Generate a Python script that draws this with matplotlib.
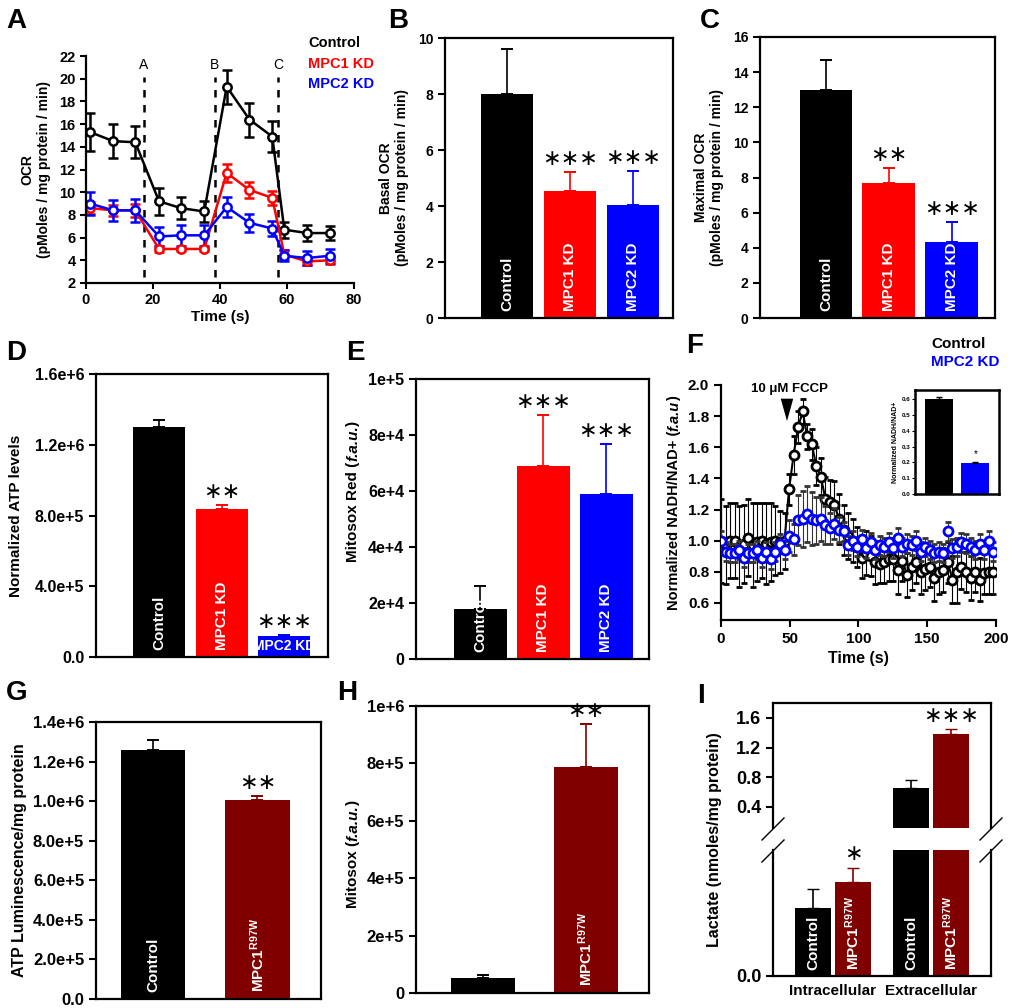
import matplotlib
matplotlib.use('Agg')
import matplotlib.pyplot as plt

plt.rcParams['font.family'] = ['Liberation Sans', 'DejaVu Sans']
plt.rcParams['font.weight'] = 'bold'
plt.rcParams['axes.linewidth'] = 1.6
plt.rcParams['mathtext.fontset'] = 'custom'
plt.rcParams['mathtext.rm'] = 'Liberation Sans:bold'
plt.rcParams['mathtext.bf'] = 'Liberation Sans:bold'
plt.rcParams['mathtext.it'] = 'Liberation Sans:bold:italic'

RED, BLUE, DRED = '#ff0000', '#0000ff', '#800000'

# ---- panel A: OCR time course
time_a = [1.2, 8.1, 14.7, 21.8, 28.3, 35.3, 42.0, 48.8, 55.6, 59.2, 66.0, 72.8]
ocr_ctrl = [15.3, 14.5, 14.4, 9.2, 8.6, 8.3, 19.3, 16.4, 14.9, 6.7, 6.4, 6.4]
ocr_ctrl_err = [1.7, 1.5, 1.4, 1.2, 1.0, 0.9, 1.5, 1.5, 1.4, 0.7, 0.7, 0.6]
ocr_mpc1 = [8.6, 8.4, 8.4, 5.0, 5.0, 5.0, 11.7, 10.2, 9.5, 4.5, 3.9, 4.0]
ocr_mpc1_err = [0.5, 0.5, 0.6, 0.3, 0.2, 0.2, 0.8, 0.7, 0.6, 0.4, 0.3, 0.3]
ocr_mpc2 = [9.0, 8.4, 8.4, 6.1, 6.2, 6.2, 8.7, 7.3, 6.8, 4.4, 4.2, 4.4]
ocr_mpc2_err = [1.0, 0.9, 1.0, 0.8, 0.9, 0.9, 0.9, 0.8, 0.7, 0.5, 0.6, 0.6]
inject_times = [17.3, 38.5, 57.3]
inject_labels = ['A', 'B', 'C']

# ---- bar panels
kd_groups = ['Control', 'MPC1 KD', 'MPC2 KD']
kd_colors = ['black', RED, BLUE]
basal_ocr = [8.0, 4.55, 4.05]
basal_err = [1.6, 0.65, 1.2]
basal_sig = ['', '***', '***']
max_ocr = [13.0, 7.7, 4.35]
max_err = [1.7, 0.85, 1.1]
max_sig = ['', '**', '***']
atp_kd = [1.30e6, 0.836e6, 0.12e6]
atp_kd_err = [0.04e6, 0.022e6, 0.005e6]
atp_kd_sig = ['', '**', '***']
atp_kd_ticks = ['0.0', '4.0e+5', '8.0e+5', '1.2e+6', '1.6e+6']
mitosox_kd = [1.79e4, 6.88e4, 5.9e4]
mitosox_kd_err = [0.83e4, 1.85e4, 1.79e4]
mitosox_kd_sig = ['', '***', '***']
mitosox_kd_ticks = ['0', '2e+4', '4e+4', '6e+4', '8e+4', '1e+5']

mut_groups = ['Control', r'MPC1$^{\mathrm{R97W}}$']
mut_colors = ['black', DRED]
atp_mut = [1.257e6, 1.008e6]
atp_mut_err = [0.05e6, 0.017e6]
atp_mut_sig = ['', '**']
atp_mut_ticks = ['0.0', '2.0e+5', '4.0e+5', '6.0e+5', '8.0e+5', '1.0e+6', '1.2e+6', '1.4e+6']
mitosox_mut = [0.053e6, 0.786e6]
mitosox_mut_err = [0.009e6, 0.151e6]
mitosox_mut_sig = ['', '**']
mitosox_mut_ticks = ['0', '2e+5', '4e+5', '6e+5', '8e+5', '1e+6']

# ---- panel F: NADH/NAD+ trace
time_f = [round(i * 3.3, 1) for i in range(61)]
nadh_ctrl = [1.0, 0.97, 1.0, 1.0, 0.96, 0.98, 1.02, 0.97, 0.99, 1.0, 0.98, 0.99, 1.0, 0.99, 1.0,
             1.33, 1.55, 1.73, 1.83, 1.67, 1.62, 1.48, 1.41, 1.27, 1.25, 1.23, 1.14, 1.07, 1.03, 1.0,
             0.96, 0.89, 0.92, 0.90, 0.86, 0.85, 0.86, 0.88, 0.88, 0.81, 0.87, 0.78, 0.83, 0.86, 0.80,
             0.82, 0.83, 0.76, 0.80, 0.81, 0.86, 0.75, 0.80, 0.83, 0.80, 0.76, 0.80, 0.75, 0.79, 0.80, 0.80]
nadh_ctrl_err = [0.27, 0.25, 0.24, 0.24, 0.26, 0.25, 0.25, 0.27, 0.25, 0.24, 0.26, 0.25, 0.22, 0.2, 0.18,
                 0.1, 0.12, 0.1, 0.08, 0.08, 0.1, 0.12, 0.12, 0.14, 0.14, 0.15, 0.16, 0.16, 0.15, 0.14,
                 0.13, 0.13, 0.14, 0.13, 0.14, 0.12, 0.13, 0.14, 0.14, 0.15, 0.13, 0.14, 0.15, 0.13, 0.14,
                 0.14, 0.13, 0.15, 0.14, 0.14, 0.13, 0.15, 0.2, 0.14, 0.13, 0.14, 0.13, 0.14, 0.13, 0.14, 0.14]
nadh_mpc2 = [1.0, 0.93, 0.92, 0.92, 0.94, 0.89, 0.92, 0.92, 0.94, 0.89, 0.93, 0.88, 0.93, 0.98, 0.94,
             1.03, 1.01, 1.13, 1.14, 1.17, 1.14, 1.13, 1.14, 1.10, 1.08, 1.11, 1.07, 1.06, 0.97, 1.0,
             0.96, 1.01, 0.95, 0.99, 0.94, 0.97, 0.96, 0.99, 0.95, 1.02, 0.96, 0.98, 0.97, 1.0, 0.93,
             0.96, 0.94, 0.92, 0.93, 0.92, 1.06, 0.95, 0.96, 0.99, 0.98, 0.96, 0.94, 0.98, 0.94, 1.0, 0.93]
nadh_mpc2_err = [0.06] * 15 + [0.1, 0.1, 0.16, 0.18, 0.18, 0.17, 0.15, 0.14, 0.12, 0.1, 0.1, 0.08] + [0.06] * 34
inset_vals = [0.60, 0.195]
inset_err = [0.01, 0.01]

# ---- panel I: lactate (broken axis)
lactate_x = [0, 1, 2.45, 3.45]
lactate_intra = [0.054, 0.075]
lactate_intra_err = [0.015, 0.011]
lactate_extra = [0.657, 1.38]
lactate_extra_err = [0.107, 0.07]

W, H = 1012, 1008
fig = plt.figure(figsize=(W / 100, H / 100), dpi=100)


def px_axes(l, t, r, b):
    return fig.add_axes([l / W, 1 - b / H, (r - l) / W, (b - t) / H])


def letter(x, y, s):
    fig.text(x / W, 1 - y / H, s, fontsize=20, fontweight='bold', va='top', ha='left')


def vlabel(x_px, yc_px, parts, size):
    # rotated label built from pieces so part of it can be italic
    r = fig.canvas.get_renderer()
    widths = []
    for s, st in parts:
        t = fig.text(0, 0, s, fontsize=size, fontweight='bold', fontstyle=st)
        widths.append(t.get_window_extent(r).width)
        t.remove()
    y = (H - yc_px) - sum(widths) / 2
    for (s, st), w in zip(parts, widths):
        fig.text(x_px / W, y / H, s, rotation=90, rotation_mode='anchor', ha='left',
                 va='baseline', fontsize=size, fontweight='bold', fontstyle=st)
        y += w


def bar_panel(ax, vals, errs, colors, labels, sigs, width, lab_size=11, star_size=16):
    xs = list(range(len(vals)))
    ax.bar(xs, vals, width, color=colors, zorder=2)
    for x, v, e, c, lab, s in zip(xs, vals, errs, colors, labels, sigs):
        ax.errorbar(x, v, yerr=[[0], [e]], color=c, capsize=4, lw=1.2, capthick=1.4, zorder=1)
        ax.annotate(lab, (x, 0), xycoords=('data', 'axes fraction'), xytext=(0, 7),
                    textcoords='offset pixels', rotation=90, ha='center', va='bottom',
                    color='white', fontsize=lab_size, fontweight='bold', zorder=3)
        if s:
            ax.annotate(s.replace('*', '\u2217'), (x, v + e), xytext=(0, 3), textcoords='offset pixels',
                        ha='center', va='bottom', fontsize=star_size, family='DejaVu Sans',
                        fontweight='normal')
    ax.set_xticks([])
    ax.tick_params(axis='y', direction='out', width=1.5, length=5)


# ================= A
axA = px_axes(86, 56, 354, 283)
for t in inject_times:
    axA.plot([t, t], [2.53, 20.15], ls=(0, (3, 3)), color='black', lw=1.8)
for t, s in zip(inject_times, inject_labels):
    axA.text(t, 20.6, s, ha='center', va='bottom', fontsize=10, fontweight='normal')
for y, e, c in [(ocr_ctrl, ocr_ctrl_err, 'black'), (ocr_mpc1, ocr_mpc1_err, RED),
                (ocr_mpc2, ocr_mpc2_err, BLUE)]:
    axA.errorbar(time_a, y, yerr=e, color=c, lw=1.8, capsize=3.5, capthick=1.5,
                 marker='o', ms=6, mfc='white', mec=c, mew=1.8)
axA.set_xlim(0, 80)
axA.set_ylim(2, 22)
axA.set_xticks([0, 20, 40, 60, 80])
axA.set_yticks(range(2, 23, 2))
axA.spines[['top', 'right']].set_visible(False)
axA.tick_params(labelsize=10.5, width=1.5, length=4)
axA.set_xlabel('Time (s)', fontsize=11, fontweight='bold', labelpad=2)
axA.set_ylabel('OCR\n(pMoles / mg protein / min)', fontsize=10, fontweight='bold', labelpad=6)
for i, (s, c) in enumerate(zip(['Control', 'MPC1 KD', 'MPC2 KD'], ['black', RED, BLUE])):
    fig.text(308 / W, 1 - (43 + 20.5 * i) / H, s, color=c, fontsize=10.5, fontweight='bold', va='center')
letter(6, 8, 'A')

# ================= B
axB = px_axes(445, 38, 673, 318)
bar_panel(axB, basal_ocr, basal_err, kd_colors, kd_groups, basal_sig, 0.83)
axB.set_xlim(-0.98, 2.63)
axB.set_ylim(0, 10)
axB.tick_params(labelsize=10)
axB.set_ylabel('Basal OCR\n(pMoles / mg protein / min)', fontsize=10, fontweight='bold', labelpad=6)
letter(388, 8, 'B')

# ================= C
axC = px_axes(760, 37, 995, 318)
bar_panel(axC, max_ocr, max_err, kd_colors, kd_groups, max_sig, 0.84)
axC.set_xlim(-1.05, 2.69)
axC.set_ylim(0, 16)
axC.tick_params(labelsize=10)
axC.set_ylabel('Maximal OCR\n(pMoles / mg protein / min)', fontsize=10, fontweight='bold', labelpad=6)
letter(700, 8, 'C')

# ================= D
axD = px_axes(96, 374, 328, 657)
bar_panel(axD, atp_kd, atp_kd_err, kd_colors, ['Control', 'MPC1 KD', ''], atp_kd_sig, 0.83)
axD.annotate('MPC2 KD', (2, 0), xycoords=('data', 'axes fraction'), xytext=(0, 4),
             textcoords='offset pixels', ha='center', va='bottom', color='white',
             fontsize=10, fontweight='bold')
axD.set_xlim(-1.01, 2.70)
axD.set_ylim(0, 1.6e6)
axD.set_yticks([0, 0.4e6, 0.8e6, 1.2e6, 1.6e6])
axD.set_yticklabels(atp_kd_ticks)
axD.tick_params(labelsize=11.5)
axD.set_ylabel('Normalized ATP levels', fontsize=11, fontweight='bold', labelpad=8)
letter(6, 340, 'D')

# ================= E
axE = px_axes(416, 379, 649, 659)
bar_panel(axE, mitosox_kd, mitosox_kd_err, kd_colors, kd_groups, mitosox_kd_sig, 0.84)
axE.set_xlim(-1.02, 2.68)
axE.set_ylim(0, 1e5)
axE.set_yticks([0, 2e4, 4e4, 6e4, 8e4, 1e5])
axE.set_yticklabels(mitosox_kd_ticks)
axE.tick_params(labelsize=11.5)
vlabel(357, 491, [('Mitosox Red (', 'normal'), ('f.a.u.', 'italic'), (')', 'normal')], 11)
letter(346, 340, 'E')

# ================= F
axF = px_axes(721, 385, 996, 620)
axF.errorbar(time_f, nadh_ctrl, yerr=nadh_ctrl_err, color='black', lw=1.5, capsize=2.5,
             elinewidth=0.8, capthick=0.8, marker='o', ms=6.5, mfc='white', mec='black', mew=2.0,
             zorder=2)
axF.errorbar(time_f, nadh_mpc2, yerr=nadh_mpc2_err, color=BLUE, ecolor='#333333', lw=0,
             capsize=2.5, elinewidth=0.8, capthick=0.8, marker='o', ms=6.5, mfc='white',
             mec=BLUE, mew=2.0, zorder=3)
axF.set_xlim(0, 200)
axF.set_ylim(0.49, 2.0)
axF.set_xticks([0, 50, 100, 150, 200])
axF.set_yticks([0.6, 0.8, 1.0, 1.2, 1.4, 1.6, 1.8, 2.0])
axF.spines[['top', 'right']].set_visible(False)
axF.tick_params(labelsize=11, width=1.5, length=5)
axF.set_xlabel('Time (s)', fontsize=11.5, fontweight='bold', labelpad=4)
vlabel(678, 503, [('Normalized NADH/NAD+ (', 'normal'), ('f.a.u', 'italic'), (')', 'normal')], 10.5)
axF.annotate('', xy=(48, 1.75), xytext=(48, 1.93),
             arrowprops=dict(arrowstyle='wedge,tail_width=0.9', color='black', lw=0))
axF.text(50, 1.935, '10 \u03bcM FCCP', ha='center', va='bottom', fontsize=9.5, fontweight='bold')
fig.text(931 / W, 1 - 344 / H, 'Control', color='black', fontsize=11, fontweight='bold', va='center')
fig.text(931 / W, 1 - 362 / H, 'MPC2 KD', color=BLUE, fontsize=11, fontweight='bold', va='center')
letter(686, 333, 'F')

axIn = px_axes(915, 390, 999, 494)
axIn.bar([0, 1], inset_vals, 0.77, color=['black', BLUE])
for x, v, e in zip([0, 1], inset_vals, inset_err):
    axIn.errorbar(x, v, yerr=[[0], [e]], color='black', capsize=2, lw=0.8)
axIn.text(1, 0.22, '*', ha='center', va='bottom', fontsize=7, fontweight='normal')
axIn.set_xlim(-0.645, 1.645)
axIn.set_ylim(0, 0.657)
axIn.set_xticks([])
axIn.set_yticks([0, 0.1, 0.2, 0.3, 0.4, 0.5, 0.6])
axIn.tick_params(labelsize=4.5, length=2, width=0.8, pad=1)
axIn.set_ylabel('Normalized NADH/NAD+', fontsize=5, fontweight='bold', labelpad=2)
for sp in axIn.spines.values():
    sp.set_linewidth(1.8)

# ================= G
axG = px_axes(96, 722, 321, 999)
bar_panel(axG, atp_mut, atp_mut_err, mut_colors, mut_groups, atp_mut_sig, 0.62)
axG.set_xlim(-0.545, 1.61)
axG.set_ylim(0, 1.4e6)
axG.set_yticks([0, 2e5, 4e5, 6e5, 8e5, 1e6, 1.2e6, 1.4e6])
axG.set_yticklabels(atp_mut_ticks)
axG.tick_params(labelsize=12)
axG.set_ylabel('ATP Luminescence/mg protein', fontsize=11.5, fontweight='bold', labelpad=4)
letter(6, 680, 'G')

# ================= H
axH = px_axes(416, 706, 649, 993)
bar_panel(axH, mitosox_mut, mitosox_mut_err, mut_colors, ['', mut_groups[1]], mitosox_mut_sig, 0.62)
axH.set_xlim(-0.65, 1.61)
axH.set_ylim(0, 1e6)
axH.set_yticks([0, 2e5, 4e5, 6e5, 8e5, 1e6])
axH.set_yticklabels(mitosox_mut_ticks)
axH.tick_params(labelsize=12)
vlabel(357, 854, [('Mitosox (', 'normal'), ('f.a.u.', 'italic'), (')', 'normal')], 11)
letter(337, 680, 'H')

# ================= I (broken axis)
axIu = px_axes(773, 703, 991, 828)
axIl = px_axes(773, 850, 991, 976)
for ax in (axIu, axIl):
    ax.bar(lactate_x, lactate_intra + lactate_extra, 0.9, color=mut_colors * 2, zorder=2)
    ax.set_xlim(-1.0, 4.45)
    ax.set_xticks([])
    ax.tick_params(labelsize=13, width=1.5, length=5)
for x, v, e, c in zip(lactate_x[2:], lactate_extra, lactate_extra_err, mut_colors):
    axIu.errorbar(x, v, yerr=[[0], [e]], color=c, capsize=4, lw=1.2, zorder=1)
for x, v, e, c in zip(lactate_x[:2], lactate_intra, lactate_intra_err, mut_colors):
    axIl.errorbar(x, v, yerr=[[0], [e]], color=c, capsize=4, lw=1.2, zorder=1)
axIu.set_ylim(0.117, 1.80)
axIu.set_yticks([0.4, 0.8, 1.2, 1.6])
axIl.set_ylim(0, 0.1)
axIl.set_yticks([0])
axIl.set_yticklabels(['0.0'])
axIu.spines['bottom'].set_visible(False)
axIl.spines['top'].set_visible(False)
axIu.annotate('\u2217\u2217\u2217', (lactate_x[3], lactate_extra[1] + lactate_extra_err[1]),
              xytext=(0, 3), textcoords='offset pixels', ha='center', va='bottom',
              fontsize=16, family='DejaVu Sans', fontweight='normal')
axIl.annotate('\u2217', (lactate_x[1], lactate_intra[1] + lactate_intra_err[1]),
              xytext=(0, 4), textcoords='offset pixels', ha='center', va='bottom',
              fontsize=16, family='DejaVu Sans', fontweight='normal')
for x, lab in zip(lactate_x, mut_groups * 2):
    axIl.annotate(lab, (x, 0), xycoords=('data', 'axes fraction'), xytext=(0, 6),
                  textcoords='offset pixels', rotation=90, ha='center', va='bottom',
                  color='white', fontsize=11, fontweight='bold', zorder=3)
axIl.text(0.5, -0.06, 'Intracellular', ha='center', va='top', fontsize=11, fontweight='bold',
          transform=axIl.get_xaxis_transform())
axIl.text(2.95, -0.06, 'Extracellular', ha='center', va='top', fontsize=11, fontweight='bold',
          transform=axIl.get_xaxis_transform())
for xp in (773, 991):
    for yp in (829, 851):
        fig.add_artist(plt.Line2D([(xp - 11) / W, (xp + 11) / W], [1 - (yp + 11) / H, 1 - (yp - 11) / H],
                                  color='black', lw=1.0))
fig.text(715 / W, 1 - 840 / H, 'Lactate (nmoles/mg protein)', rotation=90, ha='center', va='center',
         fontsize=11.5, fontweight='bold')
letter(697, 683, 'I')

fig.savefig('out.png', dpi=100)
